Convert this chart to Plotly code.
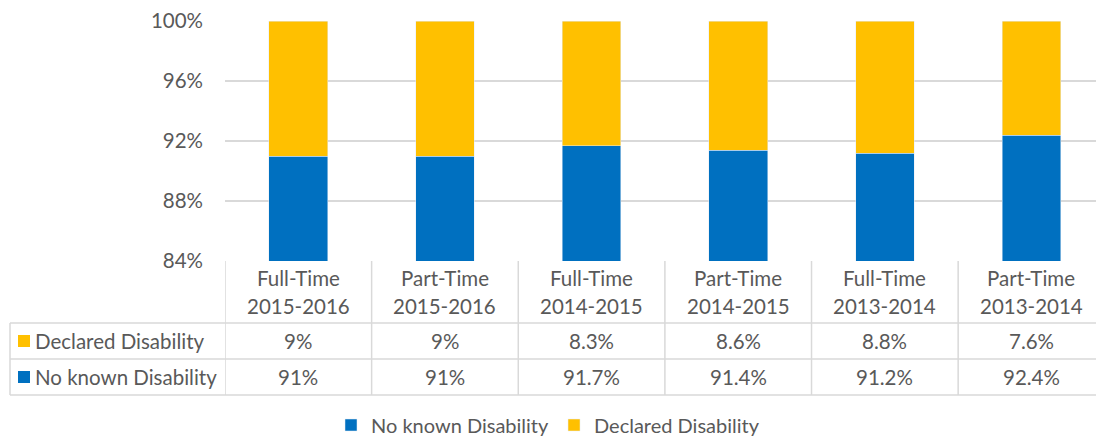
import plotly.graph_objects as go

# Chart data
enrolment_type = ["Full-Time", "Part-Time", "Full-Time", "Part-Time", "Full-Time", "Part-Time"]
academic_year = ["2015-2016", "2015-2016", "2014-2015", "2014-2015", "2013-2014", "2013-2014"]
no_known_disability = [91, 91, 91.7, 91.4, 91.2, 92.4]
declared_disability = [9, 9, 8.3, 8.6, 8.8, 7.6]
y_ticks = [84, 88, 92, 96, 100]

BLUE = "#0070C0"
GOLD = "#FFC000"
TEXT = "#595959"
GRID = "#D9D9D9"
FONT = "Lato"
FS = 20.5

W, H = 1096, 439
n = len(enrolment_type)
xs = list(range(n))


def py(px):
    """Pixel row -> paper y."""
    return 1 - px / H


def pxx(px):
    """Pixel column -> paper x."""
    return px / W


fig = go.Figure()
fig.add_trace(go.Bar(x=xs, y=no_known_disability, name="No known Disability",
                     marker_color=BLUE, width=0.4))
fig.add_trace(go.Bar(x=xs, y=declared_disability, name="Declared Disability",
                     marker_color=GOLD, width=0.4))

plot_left, plot_top, plot_bottom = 225, 21, 261
row_lines = [323, 359, 395]

shapes = []
# column separators of the data table
for i in range(n):
    shapes.append(dict(type="line", xref="x", yref="paper",
                       x0=i - 0.5, x1=i - 0.5, y0=py(plot_bottom), y1=py(row_lines[-1]),
                       line=dict(color=GRID, width=1.5)))
# left border of the series-name column
shapes.append(dict(type="line", xref="paper", yref="paper",
                   x0=pxx(10), x1=pxx(10), y0=py(row_lines[0]), y1=py(row_lines[-1]),
                   line=dict(color=GRID, width=1.5)))
# horizontal row lines
for r in row_lines:
    shapes.append(dict(type="line", xref="paper", yref="paper",
                       x0=pxx(10), x1=1, y0=py(r), y1=py(r),
                       line=dict(color=GRID, width=1.5)))

cell_font = dict(family=FONT, size=FS, color=TEXT)
annotations = []
# category headers (two lines per column)
for i in range(n):
    annotations.append(dict(x=i, y=py(278), xref="x", yref="paper",
                            text=enrolment_type[i], showarrow=False,
                            font=cell_font, yanchor="middle"))
    annotations.append(dict(x=i, y=py(306), xref="x", yref="paper",
                            text=academic_year[i], showarrow=False,
                            font=cell_font, yanchor="middle"))

rows = [("Declared Disability", GOLD, declared_disability, 341),
        ("No known Disability", BLUE, no_known_disability, 377)]
for name, color, vals, yc in rows:
    shapes.append(dict(type="rect", xref="paper", yref="paper",
                       x0=pxx(18), x1=pxx(30), y0=py(yc - 6), y1=py(yc + 6),
                       fillcolor=color, line=dict(width=0)))
    annotations.append(dict(x=pxx(33), y=py(yc), xref="paper", yref="paper",
                            text=name, showarrow=False, xanchor="left", yanchor="middle",
                            font=cell_font))
    for i, v in enumerate(vals):
        annotations.append(dict(x=i, y=py(yc), xref="x", yref="paper",
                                text=f"{v:g}%", showarrow=False, yanchor="middle",
                                font=cell_font))

fig.update_layout(
    width=W, height=H, autosize=False,
    margin=dict(l=0, r=0, t=0, b=0, autoexpand=False),
    paper_bgcolor="white", plot_bgcolor="white",
    barmode="stack",
    font=cell_font,
    xaxis=dict(domain=[pxx(plot_left), 1], range=[-0.5, 5.44],
               showticklabels=False, showgrid=False, zeroline=False,
               showline=False, fixedrange=True),
    yaxis=dict(domain=[py(plot_bottom), py(plot_top)], range=[84, 100],
               tickvals=y_ticks, ticktext=[f"{t}%" for t in y_ticks],
               showgrid=True, gridcolor=GRID, gridwidth=1.5, zeroline=False,
               showline=False, ticklabelstandoff=21, tickfont=cell_font),
    legend=dict(orientation="h", xref="container", yref="container",
                x=0.5, xanchor="center", y=1 - 425 / H, yanchor="middle",
                font=dict(family=FONT, size=20, color=TEXT),
                traceorder="normal", itemwidth=30),
    shapes=shapes,
    annotations=annotations,
    showlegend=True,
)

fig.write_html("out.html")
